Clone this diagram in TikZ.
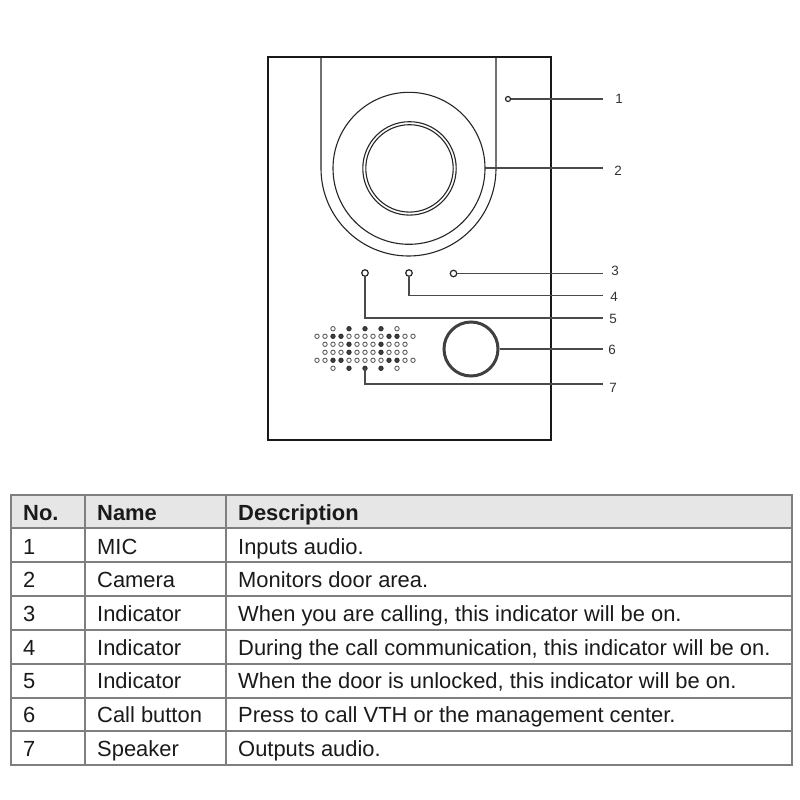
\documentclass[tikz,border=0pt]{standalone}
\usepackage{fontspec}
\setmainfont{Liberation Sans}
\definecolor{grid}{HTML}{7F7F7F}
\definecolor{headfill}{HTML}{E6E6E6}
\definecolor{ink}{HTML}{1A1A1A}
\definecolor{wire}{HTML}{4A4A4A}
\tikzset{
 devline/.style={draw=black!85,line width=1.1bp},
 bodyline/.style={draw=black!90,line width=1.7bp},
 wireline/.style={draw=wire,line width=1.2bp},
 led/.style={circle,draw=black!85,fill=white,line width=1.2bp,inner sep=0pt,minimum size=6.5bp},
 callout/.style={font=\fontsize{13.5}{14}\selectfont,text=black!80,inner sep=0pt},
 cell/.style={font=\fontsize{22}{24}\selectfont,text=ink,anchor=base west,inner sep=0pt},
 headcell/.style={cell,font=\fontsize{22}{24}\selectfont\bfseries},
 opendot/.style={circle,draw=black!70,fill=white,line width=.8bp,inner sep=0pt,minimum size=4.4bp},
 darkdot/.style={circle,draw=black!85,fill=black!75,line width=.8bp,inner sep=0pt,minimum size=4.4bp},
}
\begin{document}
\begin{tikzpicture}[x=1bp,y=-1bp]
\useasboundingbox[fill=white] (0,0) rectangle (800,800);
% device
\draw[bodyline] (268,57) rectangle (551,440);
\draw[devline] (321,57) -- (321,168.5) arc[start angle=180,end angle=0,radius=87.5] -- (496,57);
\draw[devline] (409,168.3) circle[radius=76];
\draw[devline] (409.5,168.4) circle[radius=46.7];
\draw[devline] (409.5,168.4) circle[radius=43.7];
% indicators and mic
\node[led,minimum size=5bp] (n1) at (508,99) {};
\node[led] (n3) at (453.5,273.5) {};
\node[led] (n4) at (409,273) {};
\node[led] (n5) at (365,273) {};
\coordinate (n2) at (485,168);
% call button
\node[circle,draw=black!75,line width=3bp,inner sep=0pt,minimum size=54bp] (n6) at (471,349) {};
% speaker
\foreach \x/\s in {333/opendot,349/darkdot,365/darkdot,381/darkdot,397/opendot}{
 \node[\s] at (\x,328.7) {};
 \node[\s] at (\x,368.3) {};
}
\foreach \x/\s in {317/opendot,325/opendot,333/darkdot,341/darkdot,349/opendot,357/opendot,365/opendot,373/opendot,381/opendot,389/darkdot,397/darkdot,405/opendot,413/opendot}{
 \node[\s] at (\x,336.3) {};
 \node[\s] at (\x,360.3) {};
}
\foreach \x/\s in {325/opendot,333/opendot,341/opendot,349/darkdot,357/opendot,365/opendot,373/opendot,381/darkdot,389/opendot,397/opendot,405/opendot}{
 \node[\s] at (\x,344.3) {};
 \node[\s] at (\x,352.3) {};
}
\coordinate (n7) at (365,368.3);
% callout ends
\coordinate (e1) at (603,99);
\coordinate (e2) at (603,168);
\coordinate (e3) at (603,273.5);
\coordinate (e4) at (603,295.5);
\coordinate (e5) at (603,318);
\coordinate (e6) at (603,349);
\coordinate (e7) at (603,384);
\draw[wireline] (n1) -- (e1);
\draw[wireline] (n2) -- (e2);
\draw[wireline] (n3) -- (e3);
\draw[wireline] (n4) |- (e4);
\draw[wireline] (n5) |- (e5);
\draw[wireline] (n6) -- (e6);
\draw[wireline] (n7) |- (e7);
\node[callout] (l1) at (619,99) {1};
\node[callout] (l2) at (618,171) {2};
\node[callout] (l3) at (615,271) {3};
\node[callout] (l4) at (614,297) {4};
\node[callout] (l5) at (613,319) {5};
\node[callout] (l6) at (612,350) {6};
\node[callout] (l7) at (613,388) {7};
% table
\fill[headfill] (11,495) rectangle (792,528);
\draw[grid,line width=1.6bp] (11,495) rectangle (792,765);
\foreach \y in {528,562,596,630,664,698,731}{\draw[grid,line width=1.6bp] (11,\y) -- (792,\y);}
\foreach \x in {85,226}{\draw[grid,line width=1.6bp] (\x,495) -- (\x,765);}
\node[headcell] at (23,520) {No.};
\node[headcell] at (97,520) {Name};
\node[headcell] at (238,520) {Description};
\foreach \y/\a/\b/\c in {554/1/MIC/Inputs audio.,
 587.5/2/Camera/Monitors door area.,
 621/3/Indicator/When you are calling{,} this indicator will be on.,
 655/4/Indicator/During the call communication{,} this indicator will be on.,
 688.5/5/Indicator/When the door is unlocked{,} this indicator will be on.,
 722/6/Call button/Press to call VTH or the management center.,
 756/7/Speaker/Outputs audio.}{
 \node[cell] at (23,\y) {\a};
 \node[cell] at (97,\y) {\b};
 \node[cell] at (238,\y) {\c};
}
\end{tikzpicture}
\end{document}
